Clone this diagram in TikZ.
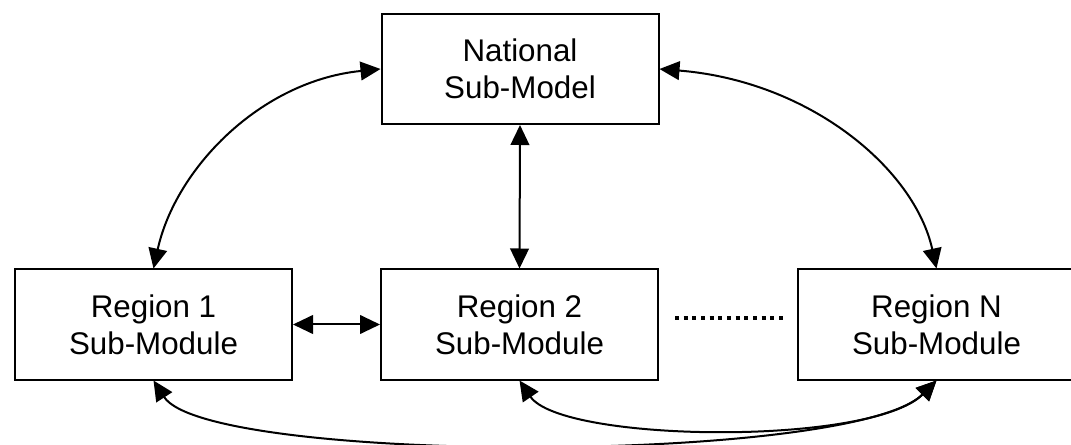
\documentclass[tikz,border=0pt]{standalone}
\usepackage{fontspec}
\setmainfont{Liberation Sans}
\usetikzlibrary{arrows.meta}

\begin{document}
\begin{tikzpicture}[x=0.75pt, y=-0.75pt,
  box/.style={draw=black, line width=1.5pt, fill=white, inner sep=0pt,
    minimum width=207.75pt, minimum height=82.5pt, align=center,
    font=\fontsize{23.5}{27.5}\selectfont},
  link/.style={line width=1.5pt, {Triangle[length=15pt,width=14pt]}-{Triangle[length=15pt,width=14pt]}},
  etc/.style={line width=3pt, dash pattern=on 3pt off 3.5pt}
]
  \useasboundingbox (0,0) rectangle (1071,445);

  % sub-model and regional sub-modules
  \node[box] (nat) at (520,69)    {National\\Sub-Model};
  \node[box] (r1)  at (153.5,324.5) {Region 1\\Sub-Module};
  \node[box] (r2)  at (519.5,324.5) {Region 2\\Sub-Module};
  \node[box] (rN)  at (936.5,324.5) {Region N\\Sub-Module};

  % ellipsis between region 2 and region N
  \coordinate (dl) at (675,318);
  \coordinate (dr) at (783,318);
  \draw[etc] (dl) -- (dr);

  % two-way links
  \draw[link] (nat.west) .. controls +(-120,12) and +(22,-100) .. (r1.north);
  \draw[link] (nat.east) .. controls +(150,12) and +(-22,-100) .. (rN.north);
  \draw[link] (nat.south) -- (r2.north);
  \draw[link] (r1.east) -- (r2.west);
  \draw[link] (r1.south) .. controls +(54,84) and +(-84,84) .. (rN.south);
  \draw[link] (r2.south) .. controls +(42,62) and +(-66,66) .. (rN.south);
\end{tikzpicture}
\end{document}
